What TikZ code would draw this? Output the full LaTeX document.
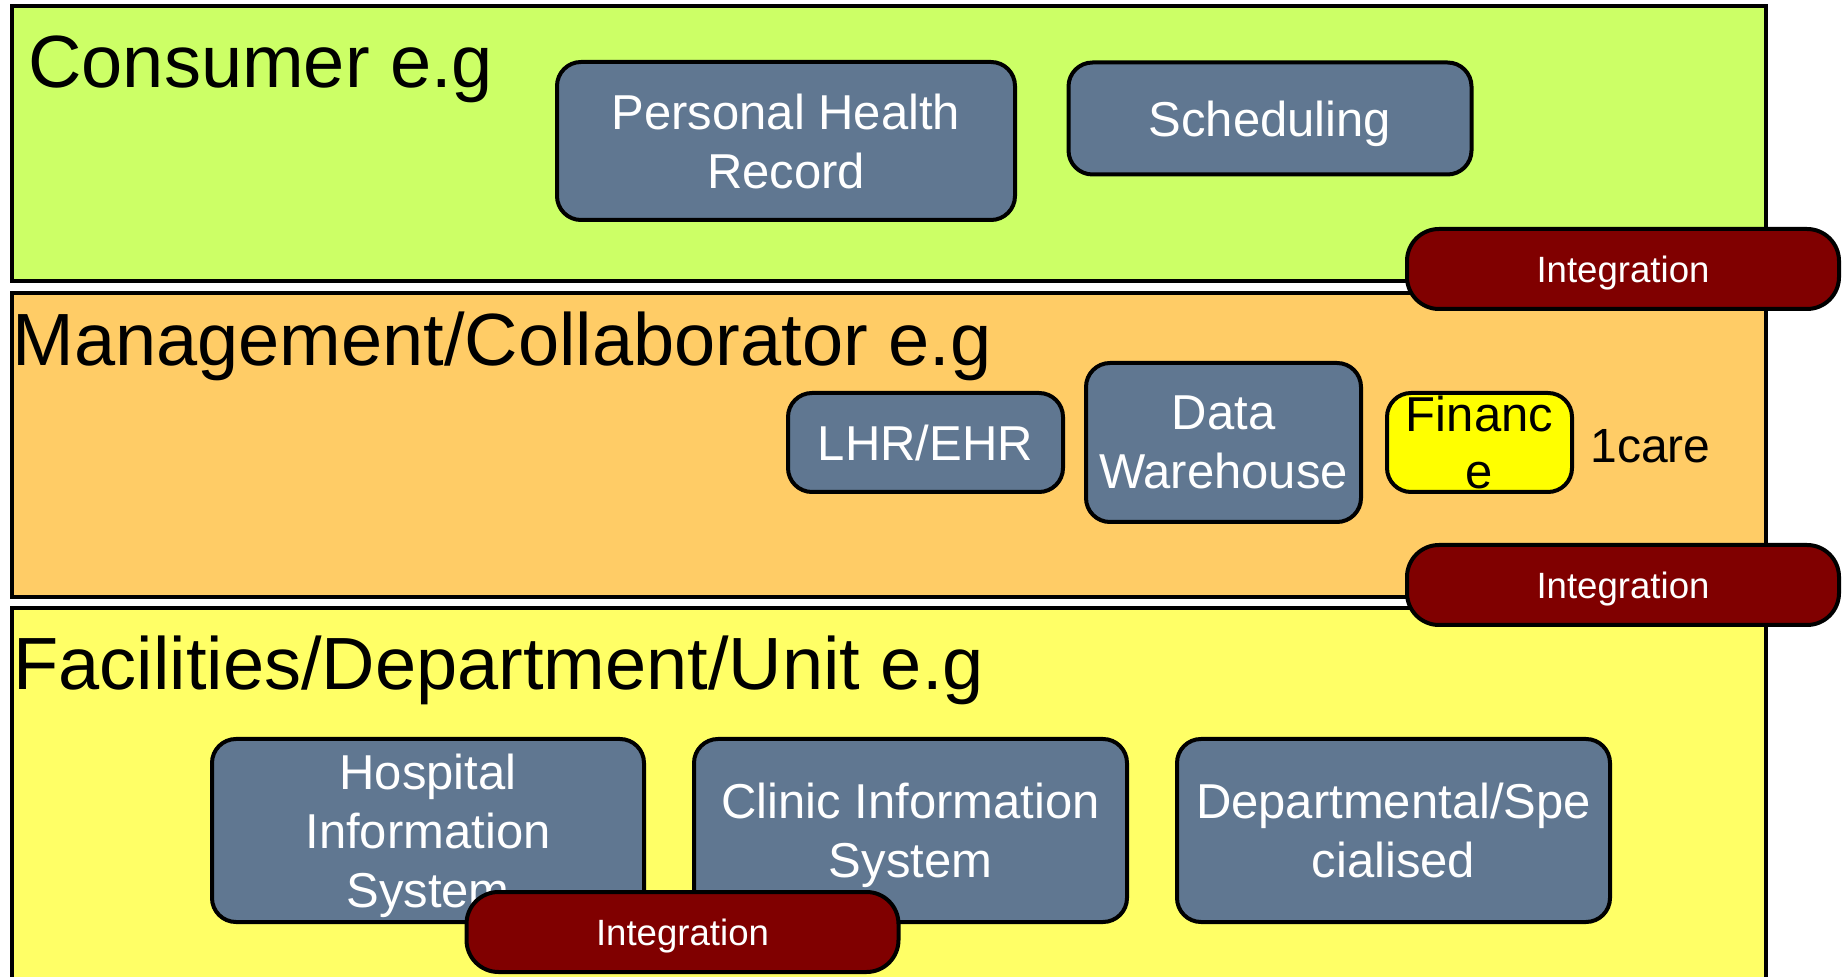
\documentclass[tikz,border=0pt]{standalone}
\usepackage{fontspec}
\setmainfont{Liberation Sans}
\definecolor{consumergreen}{RGB}{204,255,102}
\definecolor{mgmtorange}{RGB}{255,204,102}
\definecolor{facyellow}{RGB}{255,255,102}
\definecolor{slate}{RGB}{96,119,145}
\definecolor{integred}{RGB}{128,0,0}
\definecolor{finyellow}{RGB}{255,255,0}
\begin{document}
\begin{tikzpicture}[x=0.5pt,y=-0.5pt,
  layer/.style={draw=black,line width=2pt,inner sep=0pt,anchor=north west},
  sysbox/.style={draw=black,line width=2pt,fill=slate,rounded corners=12pt,text=white,
    font=\fontsize{24.5}{29.5}\selectfont,align=center,inner sep=0pt,text depth=0pt},
  finbox/.style={sysbox,fill=finyellow,text=black,font=\fontsize{24.5}{28.5}\selectfont},
  integ/.style={draw=black,line width=2pt,fill=integred,rounded corners=16pt,text=white,
    font=\fontsize{18.3}{22}\selectfont,inner sep=0pt,text depth=0pt,minimum width=216pt,minimum height=40pt},
  title/.style={anchor=base west,inner sep=0pt,font=\fontsize{37}{44}\selectfont}]
\useasboundingbox (0,0) rectangle (1847,977);
\clip (0,0) rectangle (1847,977);
% layers
\node[layer,fill=consumergreen,minimum width=877pt,minimum height=137.5pt] (consumer) at (10,4) {};
\node[layer,fill=mgmtorange,minimum width=877pt,minimum height=152pt] (mgmt) at (10,291) {};
\node[layer,fill=facyellow,minimum width=877pt,minimum height=200pt] (fac) at (10,606) {};
% titles
\node[title] (tconsumer) at (28,88) {Consumer e.g};
\node[title] (tmgmt) at (12,366) {Management/Collaborator e.g};
\node[title] (tfac) at (13,690) {Facilities/Department/Unit e.g};
% consumer boxes
\node[sysbox,minimum width=229pt,minimum height=79pt] (phr) at (786,141) {Personal Health\\Record};
\node[sysbox,minimum width=201.5pt,minimum height=56pt] (sched) at (1270,118.5) {Scheduling};
% management boxes
\node[sysbox,minimum width=137.5pt,minimum height=49.5pt] (lhr) at (925.5,442.5) {LHR/EHR};
\node[sysbox,minimum width=137.5pt,minimum height=79.5pt] (dw) at (1223.5,442.5) {Data\\Warehouse};
\node[finbox,minimum width=92.5pt,minimum height=49.5pt] (fin) at (1479.5,442.5) {Financ\\e};
\node[anchor=base west,inner sep=0pt,font=\fontsize{24}{29}\selectfont] (onecare) at (1590,463) {1care};
% facility boxes
\node[sysbox,minimum width=216pt,minimum height=91.5pt] (his) at (428,830.5) {Hospital\\Information\\System};
\node[sysbox,minimum width=216.5pt,minimum height=91.5pt] (cis) at (910.5,830.5) {Clinic Information\\System};
\node[sysbox,minimum width=216.5pt,minimum height=91.5pt] (dep) at (1393.5,830.5) {Departmental/Spe\\cialised};
% integration bars
\node[integ] (int1) at (1623,269) {Integration};
\node[integ] (int2) at (1623,585) {Integration};
\node[integ] (int3) at (682.5,932) {Integration};
\end{tikzpicture}
\end{document}
